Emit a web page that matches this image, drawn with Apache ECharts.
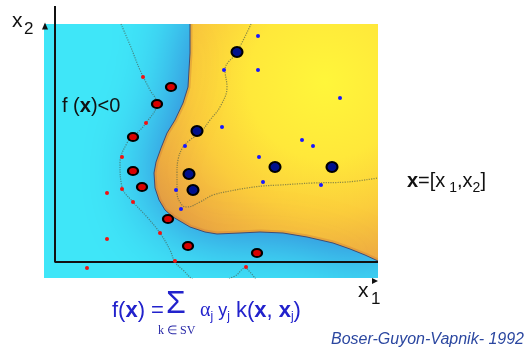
<!DOCTYPE html>
<html>
<head>
<meta charset="utf-8">
<script src="https://cdn.jsdelivr.net/npm/echarts@6/dist/echarts.min.js"></script>
<style>
  html, body { margin: 0; padding: 0; background: #fff; }
  #chart { width: 531px; height: 349px; }
</style>
</head>
<body>
<div id="chart"></div>
<script>
// feature space: x = distance right of the x2 axis, y = height above the x1 axis
const redSupportVectors = [[116, 175], [102, 158], [78, 125], [78, 91], [87, 75], [113, 43], [133, 16], [202, 9]];
const redPoints = [[88, 185], [91, 139], [67, 105], [52, 69], [67, 73], [78, 60], [52, 23], [105, 29], [32, -6], [120, 1], [191, -5]];
const blueSupportVectors = [[182, 210], [142, 131], [134, 88], [138, 72], [220, 95], [277, 95]];
const bluePoints = [[203, 226], [169, 192], [203, 192], [285, 164], [167, 135], [247, 122], [258, 116],
  [130, 116], [204, 105], [208, 80], [266, 77], [121, 72], [126, 53]];

// f(x)=0, top edge to right edge
const decisionBoundary = [[135, 238], [135, 209], [133, 175], [128, 159], [120, 142], [112, 129], [106, 114],
  [101, 100], [99, 89], [100, 74], [104, 62], [110, 52], [118, 45], [135, 35], [150, 30], [162, 28], [185, 29],
  [205, 30], [228, 29], [252, 25], [278, 19], [295, 13], [310, 7], [323, 1]];
// f(x)=-1 and f(x)=+1
const negativeMargin = [[66, 238], [75, 217], [85, 192], [95, 172], [102, 159], [91, 139], [78, 125], [72, 119],
  [65, 99], [67, 75], [78, 60], [92, 45], [105, 29], [115, 12], [120, 0], [128, -8], [140, -18], [160, -20],
  [180, -14], [190, -6], [195, -10], [203, -20]];
const positiveMargin = [[196, 238], [182, 210], [170, 192], [172, 175], [165, 155], [155, 142], [145, 129],
  [135, 122], [128, 115], [123, 102], [122, 89], [122, 69], [127, 57], [132, 55], [145, 60], [158, 67], [175, 71],
  [192, 74], [208, 76], [225, 77], [258, 79], [292, 80], [323, 84]];

const axisFrame = [[0, 256], [0, 0], [323, 0]];
const x2Tip = [[-10, 236]];
const x1Tip = [[320, -19]];

const FONT = "'Liberation Sans', Arial, sans-serif";
const SERIF = "'Liberation Serif', 'Times New Roman', serif";
const BLUE_TXT = '#2222cc';

const chart = echarts.init(document.getElementById('chart'), null, { renderer: 'canvas' });

const option = {
  animation: false,
  backgroundColor: '#fff',
  grid: {
    left: 44, top: 24, width: 334, height: 254,
    show: true, backgroundColor: '#3fe6f8', borderWidth: 0
  },
  xAxis: { type: 'value', min: -11, max: 323, show: false },
  yAxis: { type: 'value', min: -16, max: 238, show: false },
  series: [
    {
      type: 'custom',
      coordinateSystem: 'cartesian2d',
      clip: true,
      silent: true,
      z: 1,
      data: [[0, 0]],
      renderItem: function (params, api) {
        const edge = decisionBoundary.map(function (p) { return api.coord(p); });
        const region = edge.concat([api.coord([345, -5]), api.coord([345, 260]), api.coord([135, 260])]);
        const c = api.coord([270, 180]);
        return {
          type: 'group',
          children: [
            {
              type: 'polygon',
              shape: { points: region },
              style: {
                fill: new echarts.graphic.RadialGradient(c[0], c[1], 220, [
                  { offset: 0, color: '#fff63a' },
                  { offset: 0.35, color: '#ffe83a' },
                  { offset: 0.6, color: '#fbcd3c' },
                  { offset: 0.82, color: '#efae42' },
                  { offset: 1, color: '#dd9448' }
                ], true),
                shadowBlur: 70,
                shadowColor: 'rgba(48,100,205,0.95)'
              }
            },
            {
              type: 'polyline',
              shape: { points: edge },
              clipPath: { type: 'polygon', shape: { points: region } },
              style: {
                fill: null,
                stroke: 'rgba(200,120,55,0.35)',
                lineWidth: 5,
                shadowBlur: 40,
                shadowColor: 'rgba(200,120,55,0.95)'
              }
            },
            {
              type: 'polyline',
              shape: { points: edge },
              style: { fill: null, stroke: '#3d4d78', lineWidth: 1 }
            }
          ]
        };
      }
    },
    {
      type: 'line', data: negativeMargin, smooth: 0.4, showSymbol: false, silent: true, z: 2,
      lineStyle: { type: 'dotted', width: 1.2, color: 'rgba(70,110,100,0.75)' }
    },
    {
      type: 'line', data: positiveMargin, smooth: 0.4, showSymbol: false, silent: true, z: 2,
      lineStyle: { type: 'dotted', width: 1.2, color: 'rgba(90,100,70,0.7)' }
    },
    {
      type: 'line', data: axisFrame, clip: false, showSymbol: false, silent: true, z: 3,
      lineStyle: { color: '#111', width: 2 }
    },
    {
      type: 'scatter', data: x2Tip, clip: false, silent: true, z: 3,
      symbol: 'triangle', symbolSize: [6, 7], itemStyle: { color: '#111', opacity: 1 }
    },
    {
      type: 'scatter', data: x1Tip, clip: false, silent: true, z: 3,
      symbol: 'triangle', symbolSize: [6, 6], symbolRotate: -90, itemStyle: { color: '#111', opacity: 1 }
    },
    {
      type: 'scatter', data: redPoints, clip: false, silent: true, z: 5,
      symbolSize: 4, itemStyle: { color: '#f01212', opacity: 1 }
    },
    {
      type: 'scatter', data: bluePoints, clip: false, silent: true, z: 5,
      symbolSize: 4, itemStyle: { color: '#1818ff', opacity: 1 }
    },
    {
      type: 'scatter', data: redSupportVectors, clip: false, silent: true, z: 5,
      symbolSize: [10, 8], itemStyle: { color: '#d80000', borderColor: '#000', borderWidth: 2, opacity: 1 }
    },
    {
      type: 'scatter', data: blueSupportVectors, clip: false, silent: true, z: 5,
      symbolSize: [11, 10], itemStyle: { color: '#00108c', borderColor: '#000', borderWidth: 2, opacity: 1 }
    }
  ],
  graphic: {
    elements: [
      { type: 'text', x: 12, y: 21, style: { text: 'x', fontSize: 21, fontFamily: FONT, fill: '#111', verticalAlign: 'middle' } },
      { type: 'text', x: 24, y: 29, style: { text: '2', fontSize: 17, fontFamily: FONT, fill: '#111', verticalAlign: 'middle' } },
      { type: 'text', x: 358, y: 291, style: { text: 'x', fontSize: 21, fontFamily: FONT, fill: '#111', verticalAlign: 'middle' } },
      { type: 'text', x: 371, y: 299, style: { text: '1', fontSize: 17, fontFamily: FONT, fill: '#111', verticalAlign: 'middle' } },
      {
        type: 'text', x: 62, y: 106,
        style: {
          text: '{n|f (}{b|x}{n|)<0}', verticalAlign: 'middle',
          rich: { n: { fontSize: 20, fontFamily: FONT, fill: '#111' }, b: { fontSize: 20, fontFamily: FONT, fontWeight: 'bold', fill: '#111' } }
        }
      },
      {
        type: 'text', x: 254, y: 110,
        style: {
          text: '{n|f (}{b|x}{n|)>0}', verticalAlign: 'middle',
          rich: { n: { fontSize: 20, fontFamily: FONT, fill: '#111' }, b: { fontSize: 20, fontFamily: FONT, fontWeight: 'bold', fill: '#111' } }
        }
      },
      {
        type: 'text', x: 210, y: 215,
        style: {
          text: '{n|f (}{b|x}{n|)=0}', verticalAlign: 'middle',
          rich: { n: { fontSize: 20, fontFamily: FONT, fill: '#111' }, b: { fontSize: 20, fontFamily: FONT, fontWeight: 'bold', fill: '#111' } }
        }
      },
      {
        type: 'text', x: 407, y: 181,
        style: {
          text: '{b|x}{n|=[x}{s| 1}{n|,x}{s|2}{n|]}', verticalAlign: 'middle',
          rich: {
            n: { fontSize: 20, fontFamily: FONT, fill: '#111' },
            b: { fontSize: 20, fontFamily: FONT, fontWeight: 'bold', fill: '#111' },
            s: { fontSize: 14, fontFamily: FONT, fill: '#111', verticalAlign: 'top', lineHeight: 10, padding: [10, 0, 0, 0] }
          }
        }
      },
      {
        type: 'text', x: 112, y: 311,
        style: {
          text: '{n|f(}{b|x}{n|) =}', verticalAlign: 'middle',
          rich: { n: { fontSize: 22, fontFamily: FONT, fill: BLUE_TXT }, b: { fontSize: 22, fontFamily: FONT, fontWeight: 'bold', fill: BLUE_TXT } }
        }
      },
      { type: 'text', x: 166, y: 304, style: { text: 'Σ', fontSize: 32, fontFamily: FONT, fill: BLUE_TXT, verticalAlign: 'middle' } },
      { type: 'text', x: 158, y: 331, style: { text: 'k ∈ SV', fontSize: 12, fontFamily: SERIF, fill: '#2a2aa8', verticalAlign: 'middle' } },
      {
        type: 'text', x: 200, y: 311,
        style: {
          text: '{g|α}{s|j}{m| y}{s|j}{n| k(}{b|x}{n|, }{b|x}{s|j}{n|)}', verticalAlign: 'middle',
          rich: {
            n: { fontSize: 22, fontFamily: FONT, fill: BLUE_TXT },
            m: { fontSize: 18, fontFamily: FONT, fill: BLUE_TXT },
            g: { fontSize: 20, fontFamily: SERIF, fill: BLUE_TXT },
            b: { fontSize: 22, fontFamily: FONT, fontWeight: 'bold', fill: BLUE_TXT },
            s: { fontSize: 12, fontFamily: FONT, fill: BLUE_TXT, verticalAlign: 'top', lineHeight: 10, padding: [11, 0, 0, 0] }
          }
        }
      },
      {
        type: 'text', x: 331, y: 340,
        style: { text: 'Boser-Guyon-Vapnik- 1992', fontSize: 16, fontStyle: 'italic', fontFamily: FONT, fill: '#2b47a0', verticalAlign: 'middle' }
      }
    ]
  }
};

chart.setOption(option);
window.addEventListener('resize', function () { chart.resize(); });
</script>
</body>
</html>
